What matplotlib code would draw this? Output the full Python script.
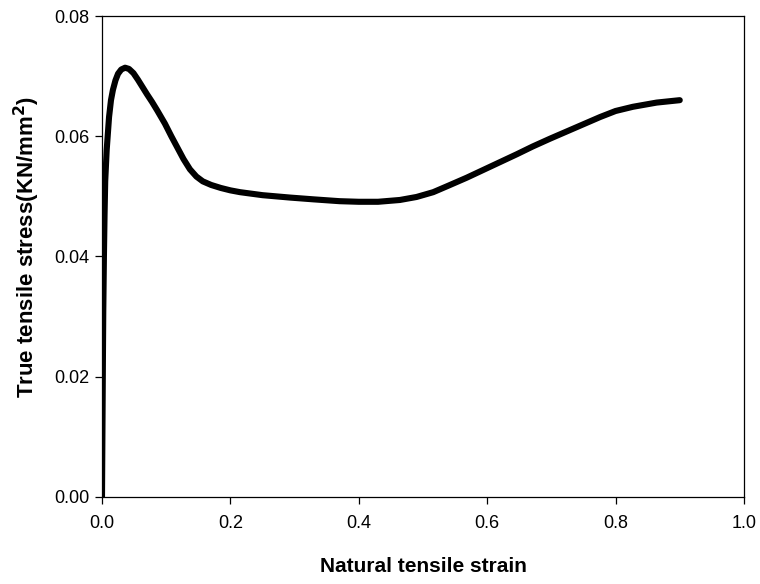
import matplotlib
matplotlib.use('Agg')
import matplotlib.pyplot as plt

# true stress vs natural strain
strain = [0.000, 0.0005, 0.001, 0.0015, 0.002, 0.003, 0.004, 0.005, 0.0073, 0.011,
          0.014, 0.017, 0.021, 0.025, 0.030, 0.036, 0.042, 0.049, 0.056, 0.063,
          0.070, 0.078, 0.086, 0.098, 0.108, 0.117, 0.127, 0.137, 0.147, 0.157,
          0.170, 0.185, 0.200, 0.215, 0.250, 0.293, 0.330, 0.370, 0.400, 0.430,
          0.464, 0.490, 0.516, 0.540, 0.568, 0.594, 0.620, 0.646, 0.671, 0.698,
          0.724, 0.750, 0.776, 0.800, 0.827, 0.864, 0.900]
stress = [0.0000, 0.0080, 0.0160, 0.0240, 0.0310, 0.0400, 0.0470, 0.0525, 0.0577, 0.0632,
          0.0660, 0.0677, 0.0693, 0.0704, 0.0711, 0.0714, 0.0712, 0.0705, 0.0694, 0.0682,
          0.0670, 0.0657, 0.0643, 0.0621, 0.0600, 0.0582, 0.0562, 0.0545, 0.0533, 0.0525,
          0.0519, 0.0514, 0.0510, 0.0507, 0.0502, 0.0498, 0.0495, 0.0492, 0.0491, 0.0491,
          0.0494, 0.0499, 0.0507, 0.0518, 0.0531, 0.0544, 0.0557, 0.0570, 0.0583, 0.0596,
          0.0608, 0.0620, 0.0632, 0.0642, 0.0649, 0.0656, 0.0660]

plt.rcParams['font.family'] = ['Liberation Sans', 'DejaVu Sans']

fig = plt.figure(figsize=(7.6, 5.84), dpi=100, facecolor='white')
ax = fig.add_axes([0.1342, 0.149, 0.8447, 0.8236])

ax.plot(strain, stress, color='black', linewidth=4.4,
        solid_capstyle='round', solid_joinstyle='round')

ax.set_xlim(0, 1.0)
ax.set_ylim(0, 0.08)
ax.set_xticks([0.0, 0.2, 0.4, 0.6, 0.8, 1.0])
ax.set_xticklabels(['0.0', '0.2', '0.4', '0.6', '0.8', '1.0'])
ax.set_yticks([0.0, 0.02, 0.04, 0.06, 0.08])
ax.set_yticklabels(['0.00', '0.02', '0.04', '0.06', '0.08'])

for spine in ax.spines.values():
    spine.set_linewidth(0.9)
    spine.set_color('black')
ax.tick_params(direction='out', length=5, width=0.9, labelsize=13, pad=4, colors='black')
ax.tick_params(axis='x', pad=8)

ax.set_xlabel('Natural tensile strain', fontsize=15, fontweight='bold', labelpad=18)
ax.set_ylabel('True tensile stress(KN/mm$^\\mathbf{2}$)', fontsize=16, fontweight='bold')
ax.yaxis.set_label_coords(-0.094, 0.52)

fig.savefig('out.png', dpi=100, facecolor='white')
